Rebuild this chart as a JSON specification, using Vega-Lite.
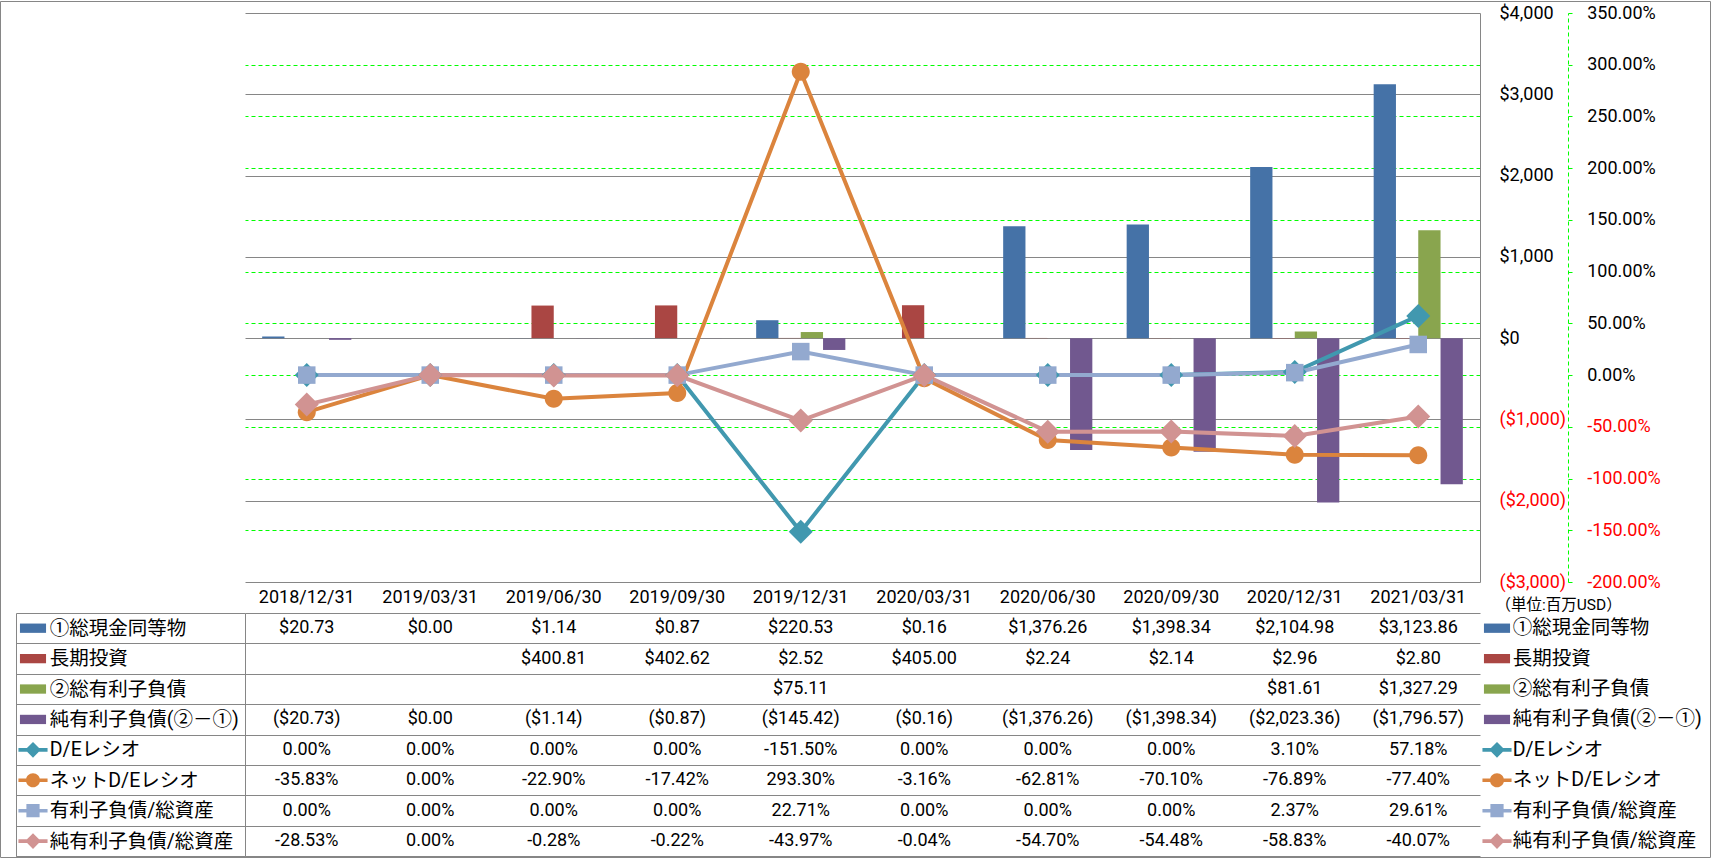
{
  "$schema": "https://vega.github.io/schema/vega-lite/v6.json",
  "width": 1235,
  "height": 569,
  "autosize": {"type": "none"},
  "padding": {"left": 245, "top": 13, "right": 231, "bottom": 276},
  "background": "white",
  "config": {
    "font": "Roboto, Noto Sans CJK JP",
    "view": {"stroke": null},
    "axis": {"labelFont": "Roboto, Noto Sans CJK JP", "labelFontSize": 18, "labelColor": "#000000", "domainColor": "#868686", "tickColor": "#868686", "gridColor": "#868686", "labelFontWeight": "normal", "labelOverlap": false}
  },
  "datasets": {
    "rows": [
      {"date": "2018/12/31", "series": "①総現金同等物", "value": 20.73, "label": "$20.73"},
      {"date": "2019/03/31", "series": "①総現金同等物", "value": 0, "label": "$0.00"},
      {"date": "2019/06/30", "series": "①総現金同等物", "value": 1.14, "label": "$1.14"},
      {"date": "2019/09/30", "series": "①総現金同等物", "value": 0.87, "label": "$0.87"},
      {"date": "2019/12/31", "series": "①総現金同等物", "value": 220.53, "label": "$220.53"},
      {"date": "2020/03/31", "series": "①総現金同等物", "value": 0.16, "label": "$0.16"},
      {"date": "2020/06/30", "series": "①総現金同等物", "value": 1376.26, "label": "$1,376.26"},
      {"date": "2020/09/30", "series": "①総現金同等物", "value": 1398.34, "label": "$1,398.34"},
      {"date": "2020/12/31", "series": "①総現金同等物", "value": 2104.98, "label": "$2,104.98"},
      {"date": "2021/03/31", "series": "①総現金同等物", "value": 3123.86, "label": "$3,123.86"},
      {"date": "2019/06/30", "series": "長期投資", "value": 400.81, "label": "$400.81"},
      {"date": "2019/09/30", "series": "長期投資", "value": 402.62, "label": "$402.62"},
      {"date": "2019/12/31", "series": "長期投資", "value": 2.52, "label": "$2.52"},
      {"date": "2020/03/31", "series": "長期投資", "value": 405.0, "label": "$405.00"},
      {"date": "2020/06/30", "series": "長期投資", "value": 2.24, "label": "$2.24"},
      {"date": "2020/09/30", "series": "長期投資", "value": 2.14, "label": "$2.14"},
      {"date": "2020/12/31", "series": "長期投資", "value": 2.96, "label": "$2.96"},
      {"date": "2021/03/31", "series": "長期投資", "value": 2.8, "label": "$2.80"},
      {"date": "2019/12/31", "series": "②総有利子負債", "value": 75.11, "label": "$75.11"},
      {"date": "2020/12/31", "series": "②総有利子負債", "value": 81.61, "label": "$81.61"},
      {"date": "2021/03/31", "series": "②総有利子負債", "value": 1327.29, "label": "$1,327.29"},
      {"date": "2018/12/31", "series": "純有利子負債(②－①)", "value": -20.73, "label": "($20.73)"},
      {"date": "2019/03/31", "series": "純有利子負債(②－①)", "value": 0, "label": "$0.00"},
      {"date": "2019/06/30", "series": "純有利子負債(②－①)", "value": -1.14, "label": "($1.14)"},
      {"date": "2019/09/30", "series": "純有利子負債(②－①)", "value": -0.87, "label": "($0.87)"},
      {"date": "2019/12/31", "series": "純有利子負債(②－①)", "value": -145.42, "label": "($145.42)"},
      {"date": "2020/03/31", "series": "純有利子負債(②－①)", "value": -0.16, "label": "($0.16)"},
      {"date": "2020/06/30", "series": "純有利子負債(②－①)", "value": -1376.26, "label": "($1,376.26)"},
      {"date": "2020/09/30", "series": "純有利子負債(②－①)", "value": -1398.34, "label": "($1,398.34)"},
      {"date": "2020/12/31", "series": "純有利子負債(②－①)", "value": -2023.36, "label": "($2,023.36)"},
      {"date": "2021/03/31", "series": "純有利子負債(②－①)", "value": -1796.57, "label": "($1,796.57)"},
      {"date": "2018/12/31", "series": "D/Eレシオ", "value": 0, "label": "0.00%"},
      {"date": "2019/03/31", "series": "D/Eレシオ", "value": 0, "label": "0.00%"},
      {"date": "2019/06/30", "series": "D/Eレシオ", "value": 0, "label": "0.00%"},
      {"date": "2019/09/30", "series": "D/Eレシオ", "value": 0, "label": "0.00%"},
      {"date": "2019/12/31", "series": "D/Eレシオ", "value": -151.5, "label": "-151.50%"},
      {"date": "2020/03/31", "series": "D/Eレシオ", "value": 0, "label": "0.00%"},
      {"date": "2020/06/30", "series": "D/Eレシオ", "value": 0, "label": "0.00%"},
      {"date": "2020/09/30", "series": "D/Eレシオ", "value": 0, "label": "0.00%"},
      {"date": "2020/12/31", "series": "D/Eレシオ", "value": 3.1, "label": "3.10%"},
      {"date": "2021/03/31", "series": "D/Eレシオ", "value": 57.18, "label": "57.18%"},
      {"date": "2018/12/31", "series": "ネットD/Eレシオ", "value": -35.83, "label": "-35.83%"},
      {"date": "2019/03/31", "series": "ネットD/Eレシオ", "value": 0, "label": "0.00%"},
      {"date": "2019/06/30", "series": "ネットD/Eレシオ", "value": -22.9, "label": "-22.90%"},
      {"date": "2019/09/30", "series": "ネットD/Eレシオ", "value": -17.42, "label": "-17.42%"},
      {"date": "2019/12/31", "series": "ネットD/Eレシオ", "value": 293.3, "label": "293.30%"},
      {"date": "2020/03/31", "series": "ネットD/Eレシオ", "value": -3.16, "label": "-3.16%"},
      {"date": "2020/06/30", "series": "ネットD/Eレシオ", "value": -62.81, "label": "-62.81%"},
      {"date": "2020/09/30", "series": "ネットD/Eレシオ", "value": -70.1, "label": "-70.10%"},
      {"date": "2020/12/31", "series": "ネットD/Eレシオ", "value": -76.89, "label": "-76.89%"},
      {"date": "2021/03/31", "series": "ネットD/Eレシオ", "value": -77.4, "label": "-77.40%"},
      {"date": "2018/12/31", "series": "有利子負債/総資産", "value": 0, "label": "0.00%"},
      {"date": "2019/03/31", "series": "有利子負債/総資産", "value": 0, "label": "0.00%"},
      {"date": "2019/06/30", "series": "有利子負債/総資産", "value": 0, "label": "0.00%"},
      {"date": "2019/09/30", "series": "有利子負債/総資産", "value": 0, "label": "0.00%"},
      {"date": "2019/12/31", "series": "有利子負債/総資産", "value": 22.71, "label": "22.71%"},
      {"date": "2020/03/31", "series": "有利子負債/総資産", "value": 0, "label": "0.00%"},
      {"date": "2020/06/30", "series": "有利子負債/総資産", "value": 0, "label": "0.00%"},
      {"date": "2020/09/30", "series": "有利子負債/総資産", "value": 0, "label": "0.00%"},
      {"date": "2020/12/31", "series": "有利子負債/総資産", "value": 2.37, "label": "2.37%"},
      {"date": "2021/03/31", "series": "有利子負債/総資産", "value": 29.61, "label": "29.61%"},
      {"date": "2018/12/31", "series": "純有利子負債/総資産", "value": -28.53, "label": "-28.53%"},
      {"date": "2019/03/31", "series": "純有利子負債/総資産", "value": 0, "label": "0.00%"},
      {"date": "2019/06/30", "series": "純有利子負債/総資産", "value": -0.28, "label": "-0.28%"},
      {"date": "2019/09/30", "series": "純有利子負債/総資産", "value": -0.22, "label": "-0.22%"},
      {"date": "2019/12/31", "series": "純有利子負債/総資産", "value": -43.97, "label": "-43.97%"},
      {"date": "2020/03/31", "series": "純有利子負債/総資産", "value": -0.04, "label": "-0.04%"},
      {"date": "2020/06/30", "series": "純有利子負債/総資産", "value": -54.7, "label": "-54.70%"},
      {"date": "2020/09/30", "series": "純有利子負債/総資産", "value": -54.48, "label": "-54.48%"},
      {"date": "2020/12/31", "series": "純有利子負債/総資産", "value": -58.83, "label": "-58.83%"},
      {"date": "2021/03/31", "series": "純有利子負債/総資産", "value": -40.07, "label": "-40.07%"}
    ],
    "legend": [
      {"series": "①総現金同等物"},
      {"series": "長期投資"},
      {"series": "②総有利子負債"},
      {"series": "純有利子負債(②－①)"},
      {"series": "D/Eレシオ"},
      {"series": "ネットD/Eレシオ"},
      {"series": "有利子負債/総資産"},
      {"series": "純有利子負債/総資産"}
    ],
    "frame": [{"part": "frame"}]
  },
  "layer": [
    {
      "data": {"name": "rows"},
      "layer": [
        {
          "transform": [{"filter": {"field": "series", "oneOf": ["①総現金同等物", "長期投資", "②総有利子負債", "純有利子負債(②－①)"]}}],
          "mark": {"type": "bar"},
          "encoding": {
            "x": {
              "field": "date", "type": "nominal",
              "scale": {"type": "band", "domain": ["2018/12/31", "2019/03/31", "2019/06/30", "2019/09/30", "2019/12/31", "2020/03/31", "2020/06/30", "2020/09/30", "2020/12/31", "2021/03/31"], "paddingInner": 0, "paddingOuter": 0},
              "axis": {"orient": "bottom", "title": null, "tickBand": "extent", "ticks": true, "tickSize": 274.3, "domain": true, "grid": false, "labels": false}
            },
            "xOffset": {"field": "series", "type": "nominal", "scale": {"domain": ["①総現金同等物", "長期投資", "②総有利子負債", "純有利子負債(②－①)"], "paddingInner": 0, "paddingOuter": 0.77}},
            "y": {
              "field": "value", "type": "quantitative",
              "scale": {"domain": [-3000, 4000], "nice": false, "zero": false},
              "axis": {
                "orient": "right", "values": [-3000, -2000, -1000, 0, 1000, 2000, 3000, 4000],
                "grid": true, "gridColor": "#868686", "ticks": false, "tickSize": 0, "domain": true,
                "labelAlign": "left", "labelBaseline": "middle", "labelPadding": 19,
                "labelExpr": "datum.value < 0 ? '($' + format(-datum.value, ',') + ')' : '$' + format(datum.value, ',')",
                "labelColor": {"condition": {"test": "datum.value < 0", "value": "#FF0000"}, "value": "#000000"},
                "title": "（単位:百万USD）", "titleAngle": 0, "titleX": 15, "titleY": 591, "titleAlign": "left", "titleBaseline": "middle",
                "titleFontSize": 15.5, "titleFontWeight": "normal", "titleFont": "Roboto, Noto Sans CJK JP", "titleColor": "#000000"
              }
            },
            "color": {
              "field": "series", "type": "nominal",
              "scale": {"domain": ["①総現金同等物", "長期投資", "②総有利子負債", "純有利子負債(②－①)", "D/Eレシオ", "ネットD/Eレシオ", "有利子負債/総資産", "純有利子負債/総資産"], "range": ["#4572A7", "#AA4643", "#89A54E", "#71588F", "#4198AF", "#DB843D", "#93A9CF", "#D19392"]},
              "legend": null
            }
          }
        },
        {
          "transform": [{"filter": {"field": "series", "oneOf": ["D/Eレシオ", "ネットD/Eレシオ", "有利子負債/総資産", "純有利子負債/総資産"]}}],
          "encoding": {
            "x": {"field": "date", "type": "nominal", "scale": {"type": "band", "domain": ["2018/12/31", "2019/03/31", "2019/06/30", "2019/09/30", "2019/12/31", "2020/03/31", "2020/06/30", "2020/09/30", "2020/12/31", "2021/03/31"], "paddingInner": 0, "paddingOuter": 0}, "axis": null},
            "y": {
              "field": "value", "type": "quantitative",
              "scale": {"domain": [-200, 350], "nice": false, "zero": false},
              "axis": {
                "orient": "right", "offset": 88, "title": null,
                "values": [-200, -150, -100, -50, 0, 50, 100, 150, 200, 250, 300, 350],
                "grid": true, "gridColor": "#00FF00", "gridDash": [4, 3],
                "gridOpacity": {"condition": {"test": "datum.value >= 350 || datum.value <= -200", "value": 0}, "value": 1},
                "ticks": true, "tickSize": 4, "tickColor": "#00FF00",
                "domain": true, "domainColor": "#00FF00", "domainDash": [4, 3],
                "labelAlign": "left", "labelBaseline": "middle", "labelPadding": 14.7,
                "labelExpr": "(datum.value < 0 ? '-' : '') + format(abs(datum.value), '.2f') + '%'",
                "labelColor": {"condition": {"test": "datum.value < 0", "value": "#FF0000"}, "value": "#000000"}
              }
            },
            "color": {"field": "series", "type": "nominal", "legend": null}
          },
          "layer": [
            {"mark": {"type": "line", "strokeWidth": 4}},
            {
              "mark": {"type": "point", "filled": true, "opacity": 1, "size": 576, "strokeWidth": 0},
              "encoding": {
                "shape": {
                  "field": "series", "type": "nominal",
                  "scale": {"domain": ["D/Eレシオ", "ネットD/Eレシオ", "有利子負債/総資産", "純有利子負債/総資産"], "range": ["M-1,0L0,-1L1,0L0,1Z", "M0.75,0A0.75,0.75,0,1,1,-0.75,0A0.75,0.75,0,1,1,0.75,0Z", "M-0.73,-0.73H0.73V0.73H-0.73Z", "M-1,0L0,-1L1,0L0,1Z"]},
                  "legend": null
                }
              }
            }
          ]
        }
      ],
      "resolve": {"scale": {"y": "independent"}}
    },
    {
      "layer": [
        {
          "data": {"name": "rows"},
          "transform": [{"aggregate": [{"op": "count", "as": "n"}], "groupby": ["date"]}],
          "mark": {"type": "text", "fontSize": 18, "font": "Roboto, Noto Sans CJK JP", "color": "#000000", "align": "center", "baseline": "middle"},
          "encoding": {
            "x": {"field": "date", "type": "nominal", "scale": {"type": "band", "domain": ["2018/12/31", "2019/03/31", "2019/06/30", "2019/09/30", "2019/12/31", "2020/03/31", "2020/06/30", "2020/09/30", "2020/12/31", "2021/03/31"], "paddingInner": 0, "paddingOuter": 0}, "axis": null},
            "y": {"datum": "header", "type": "nominal", "scale": {"type": "band", "domain": ["header"], "range": [569, 600], "paddingInner": 0, "paddingOuter": 0}, "axis": null},
            "text": {"field": "date", "type": "nominal"}
          }
        },
        {
          "data": {"name": "rows"},
          "mark": {"type": "text", "fontSize": 18, "font": "Roboto, Noto Sans CJK JP", "color": "#000000", "align": "center", "baseline": "middle"},
          "encoding": {
            "x": {"field": "date", "type": "nominal", "scale": {"type": "band", "domain": ["2018/12/31", "2019/03/31", "2019/06/30", "2019/09/30", "2019/12/31", "2020/03/31", "2020/06/30", "2020/09/30", "2020/12/31", "2021/03/31"], "paddingInner": 0, "paddingOuter": 0}, "axis": null},
            "y": {
              "field": "series", "type": "nominal",
              "scale": {"type": "band", "domain": ["①総現金同等物", "長期投資", "②総有利子負債", "純有利子負債(②－①)", "D/Eレシオ", "ネットD/Eレシオ", "有利子負債/総資産", "純有利子負債/総資産"], "range": [600, 843.3], "paddingInner": 0, "paddingOuter": 0},
              "axis": {"orient": "left", "title": null, "grid": true, "gridColor": "#868686", "tickBand": "extent", "ticks": true, "tickSize": 229, "domain": true, "labels": true, "labelAlign": "left", "labelBaseline": "middle", "labelPadding": -33.3, "labelFontSize": 19.5, "labelLimit": 0}
            },
            "text": {"field": "label", "type": "nominal"}
          }
        },
        {
          "data": {"name": "legend"},
          "mark": {"type": "point", "filled": true, "opacity": 1, "size": 900, "strokeWidth": 0},
          "encoding": {
            "x": {"datum": "L", "type": "nominal", "scale": {"type": "point", "domain": ["L", "R"], "range": [-212, 1252], "padding": 0}, "axis": null},
            "y": {
              "field": "series", "type": "nominal",
              "scale": {"type": "band", "domain": ["①総現金同等物", "長期投資", "②総有利子負債", "純有利子負債(②－①)", "D/Eレシオ", "ネットD/Eレシオ", "有利子負債/総資産", "純有利子負債/総資産"], "range": [600, 843.3], "paddingInner": 0, "paddingOuter": 0},
              "axis": {"orient": "left", "offset": 229, "title": null, "grid": false, "ticks": false, "tickSize": 0, "labels": false, "domain": true}
            },
            "color": {"field": "series", "type": "nominal", "legend": null},
            "shape": {
              "field": "series", "type": "nominal",
              "scale": {"domain": ["①総現金同等物", "長期投資", "②総有利子負債", "純有利子負債(②－①)", "D/Eレシオ", "ネットD/Eレシオ", "有利子負債/総資産", "純有利子負債/総資産"], "range": ["M-0.87,-0.31H0.87V0.31H-0.87Z", "M-0.87,-0.31H0.87V0.31H-0.87Z", "M-0.87,-0.31H0.87V0.31H-0.87Z", "M-0.87,-0.31H0.87V0.31H-0.87Z", "M-0.97,-0.12H0.97V0.12H-0.97Z M-0.52,0L0,-0.52L0.52,0L0,0.52Z", "M-0.97,-0.12H0.97V0.12H-0.97Z M0.47,0A0.47,0.47,0,1,1,-0.47,0A0.47,0.47,0,1,1,0.47,0Z", "M-0.97,-0.12H0.97V0.12H-0.97Z M-0.44,-0.44H0.44V0.44H-0.44Z", "M-0.97,-0.12H0.97V0.12H-0.97Z M-0.52,0L0,-0.52L0.52,0L0,0.52Z"]},
              "legend": null
            }
          }
        },
        {
          "data": {"name": "legend"},
          "mark": {"type": "point", "filled": true, "opacity": 1, "size": 900, "strokeWidth": 0},
          "encoding": {
            "x": {"datum": "R", "type": "nominal", "scale": {"type": "point", "domain": ["L", "R"], "range": [-212, 1252], "padding": 0}, "axis": null},
            "y": {
              "field": "series", "type": "nominal",
              "scale": {"type": "band", "domain": ["①総現金同等物", "長期投資", "②総有利子負債", "純有利子負債(②－①)", "D/Eレシオ", "ネットD/Eレシオ", "有利子負債/総資産", "純有利子負債/総資産"], "range": [600, 843.3], "paddingInner": 0, "paddingOuter": 0},
              "axis": {"orient": "right", "title": null, "grid": false, "ticks": false, "tickSize": 0, "labels": true, "domain": false, "labelAlign": "left", "labelBaseline": "middle", "labelPadding": 32.3, "labelFontSize": 19.5, "labelLimit": 0}
            },
            "color": {"field": "series", "type": "nominal", "legend": null},
            "shape": {"field": "series", "type": "nominal", "legend": null}
          }
        }
      ],
      "resolve": {"scale": {"x": "independent", "y": "independent"}, "axis": {"y": "independent"}}
    },
    {
      "data": {"name": "frame"},
      "mark": {"type": "rect", "filled": false, "stroke": "#868686", "strokeWidth": 1},
      "encoding": {
        "x": {"datum": 0, "type": "quantitative", "scale": {"domain": [0, 1], "range": [-244.5, 1465.5], "nice": false, "zero": false}, "axis": null},
        "x2": {"datum": 1},
        "y": {"datum": 0, "type": "quantitative", "scale": {"domain": [0, 1], "range": [-11.5, 844.5], "nice": false, "zero": false}, "axis": null},
        "y2": {"datum": 1}
      }
    }
  ],
  "resolve": {"scale": {"x": "independent", "y": "independent", "shape": "independent"}}
}
